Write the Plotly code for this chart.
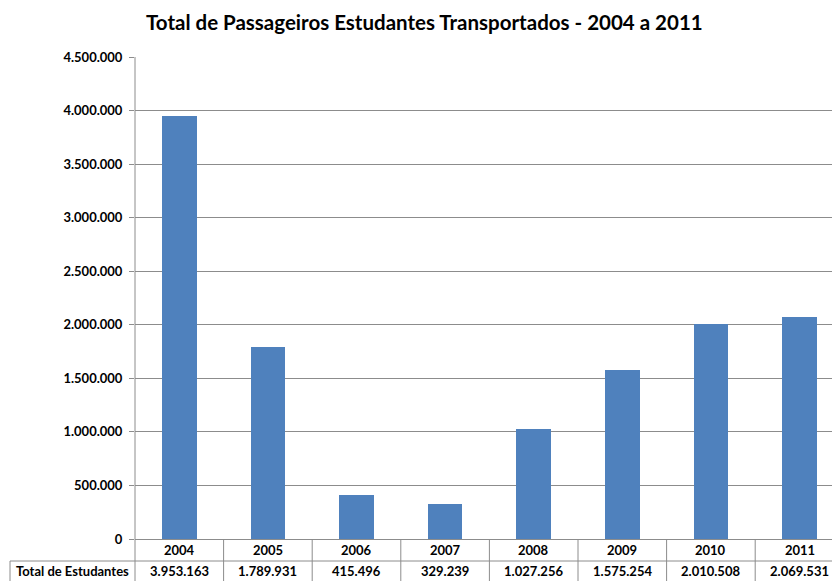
import plotly.graph_objects as go

years = ["2004", "2005", "2006", "2007", "2008", "2009", "2010", "2011"]
students = [3953163, 1789931, 415496, 329239, 1027256, 1575254, 2010508, 2069531]
value_labels = ["3.953.163", "1.789.931", "415.496", "329.239", "1.027.256", "1.575.254", "2.010.508", "2.069.531"]
row_label = "Total de Estudantes"
title = "Total de Passageiros Estudantes Transportados - 2004 a 2011"

OFF = 8  # default page body margin
W, H = 840 - OFF, 581 - OFF
REF_L, REF_T, REF_B = 135, 57, 539
ML = REF_L - OFF
MT = REF_T - OFF
MB = 581 - REF_B
MR = 0
plot_h = H - MT - MB
plot_w = W - ML - MR
FONT = "Lato"
grid_col = "#8c8c8c"
CAT_SPACING = 88.6  # pixels per category in reference
x_max = -0.5 + plot_w / CAT_SPACING

x_idx = list(range(len(years)))

fig = go.Figure()
fig.add_trace(go.Bar(x=x_idx, y=students, width=0.39,
                     marker=dict(color="#4F81BD", line=dict(width=0))))

def py(pix):
    return (REF_B - pix) / plot_h

def px(pix):
    return (pix - REF_L) / plot_w

shapes = []
for i in range(len(years)):
    shapes.append(dict(type="line", xref="x", yref="paper", x0=i + 0.5, x1=i + 0.5,
                       y0=0, y1=py(590), line=dict(color=grid_col, width=1)))
shapes.append(dict(type="line", xref="paper", yref="paper", x0=0, x1=0,
                   y0=1, y1=py(590), line=dict(color=grid_col, width=1)))
shapes.append(dict(type="line", xref="paper", yref="paper", x0=px(10), x1=1,
                   y0=py(561), y1=py(561), line=dict(color=grid_col, width=1)))
shapes.append(dict(type="line", xref="paper", yref="paper", x0=px(10), x1=px(10),
                   y0=py(561), y1=py(590), line=dict(color=grid_col, width=1)))

tfont = dict(family=FONT, size=13, color="black", weight="bold")
annotations = []
for i, lab in enumerate(years):
    annotations.append(dict(x=i, y=py(550), xref="x", yref="paper", text=lab,
                            showarrow=False, font=tfont, xanchor="center", yanchor="middle"))
for i, lab in enumerate(value_labels):
    annotations.append(dict(x=i, y=py(571), xref="x", yref="paper", text=lab,
                            showarrow=False, font=tfont, xanchor="center", yanchor="middle"))
annotations.append(dict(x=px(72), y=py(571), xref="paper", yref="paper", text=row_label,
                        showarrow=False, font=tfont, xanchor="center", yanchor="middle"))
annotations.append(dict(x=px(424), y=py(22), xref="paper", yref="paper", text=title,
                        showarrow=False, font=dict(family=FONT, size=20.5, color="black", weight="bold"),
                        xanchor="center", yanchor="middle"))

fig.update_layout(
    width=W, height=H,
    margin=dict(l=ML, r=MR, t=MT, b=MB, pad=0),
    paper_bgcolor="white", plot_bgcolor="white",
    separators=",.",
    showlegend=False,
    bargap=0,
    shapes=shapes,
    annotations=annotations,
    xaxis=dict(range=[-0.5, x_max], showticklabels=False, showgrid=False, zeroline=False,
               showline=False, ticks="", fixedrange=True),
    yaxis=dict(range=[0, 4500000], dtick=500000, tickformat=",d", showgrid=True,
               gridcolor=grid_col, gridwidth=1, zeroline=True, zerolinecolor=grid_col,
               zerolinewidth=1, showline=False, ticks="outside", ticklen=5,
               tickcolor=grid_col, tickfont=tfont, ticklabelstandoff=4),
)

fig.write_html("out.html")
